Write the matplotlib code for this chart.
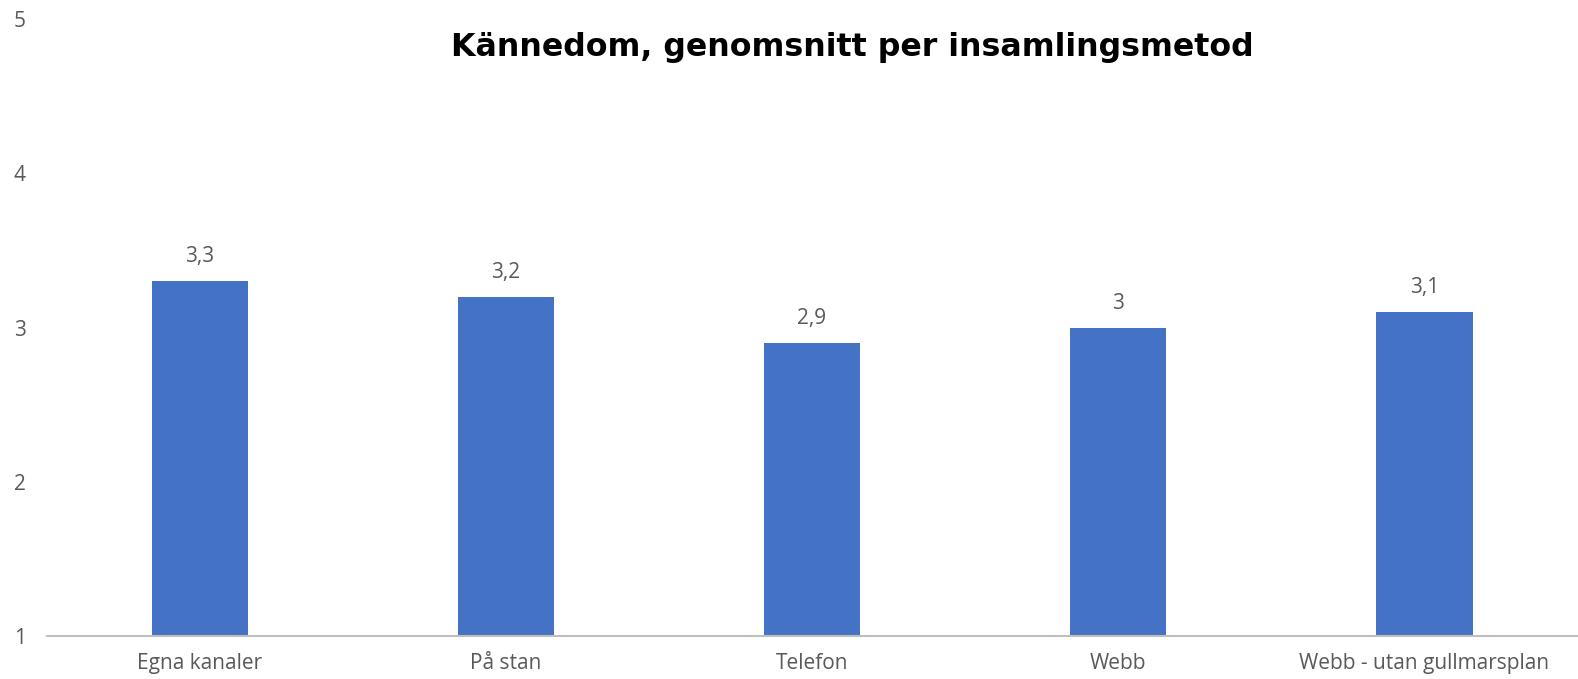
import matplotlib.pyplot as plt

categories = ['Egna kanaler', 'På stan', 'Telefon', 'Webb', 'Webb - utan gullmarsplan']
values = [3.3, 3.2, 2.9, 3.0, 3.1]
value_labels = ['3,3', '3,2', '2,9', '3', '3,1']
y_ticks = [1, 2, 3, 4, 5]

plt.rcParams['font.family'] = ['Open Sans', 'DejaVu Sans']

fig = plt.figure(figsize=(15.78, 6.79), dpi=100)
ax = fig.add_axes([0.0296, 0.0633, 0.9700, 0.9087])

x = range(len(categories))
bars = ax.bar(x, [v - 1 for v in values], bottom=1, width=0.315, color='#4472C4')

for b, lab in zip(bars, value_labels):
    ax.annotate(lab, (b.get_x() + b.get_width() / 2, b.get_y() + b.get_height()),
                xytext=(0, 10), textcoords='offset points', ha='center', va='bottom',
                fontsize=15, color='#595959')

ax.set_xlim(-0.5, len(categories) - 0.5)
ax.set_ylim(1, 5)
ax.set_yticks(y_ticks)
ax.set_yticklabels([str(t) for t in y_ticks])
ax.set_xticks(list(x))
ax.set_xticklabels(categories)
ax.tick_params(axis='both', length=0, labelsize=15, colors='#595959')
ax.tick_params(axis='x', pad=12)
ax.tick_params(axis='y', pad=15)

for s in ['top', 'right', 'left']:
    ax.spines[s].set_visible(False)
ax.spines['bottom'].set_color('#BFBFBF')
ax.spines['bottom'].set_linewidth(1.5)

fig.text(0.540, 0.930, 'Kännedom, genomsnitt per insamlingsmetod', ha='center', va='center',
         fontsize=22.8, fontweight='bold', color='black', family='DejaVu Sans')

fig.savefig('out.png', dpi=100)
